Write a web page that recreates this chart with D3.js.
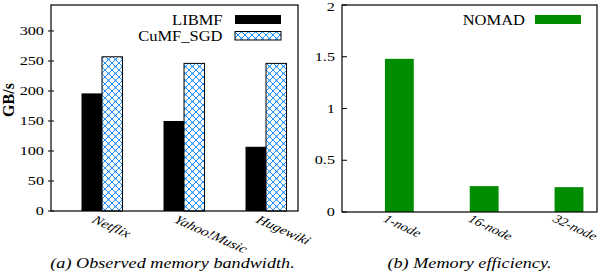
<!DOCTYPE html>
<html>
<head>
<meta charset="utf-8">
<script src="https://cdn.jsdelivr.net/npm/d3@7"></script>
<style>
  body { margin: 0; background: #fff; }
  svg { display: block; }
  text { font-family: "Liberation Serif", "DejaVu Serif", serif; fill: #000; }
</style>
</head>
<body>
<svg id="svg" width="602" height="274"></svg>
<script>
// data
var datasets = ["Netflix", "Yahoo!Music", "Hugewiki"];
var libmf = [196, 150, 107];
var cumf = [257, 246, 246];
var nodes = ["1-node", "16-node", "32-node"];
var nomad = [1.48, 0.25, 0.24];
var leftTicks = [0, 50, 100, 150, 200, 250, 300];
var rightTicks = [0, 0.5, 1, 1.5, 2];

var svg = d3.select("#svg");
var green = "#008c00";
var hatch = "#2090ff";
var sx = 1.3;   // the figure text looks stretched sideways

// crosshatch pattern for CuMF_SGD
var pat = svg.append("defs").append("pattern")
    .attr("id", "hatch")
    .attr("patternUnits", "userSpaceOnUse")
    .attr("width", 7).attr("height", 7);
pat.append("rect").attr("width", 7).attr("height", 7).attr("fill", "#fff");
pat.append("path").attr("d", "M0,0L7,7M7,0L0,7")
    .attr("stroke", hatch).attr("stroke-width", 1).attr("fill", "none");
pat.selectAll("circle").data([[0,0],[7,0],[0,7],[7,7],[3.5,3.5]]).enter()
    .append("circle").attr("cx", function(d){return d[0];}).attr("cy", function(d){return d[1];})
    .attr("r", 1.1).attr("fill", hatch);

function label(g, x, y, txt, size, anchor, extra, scale) {
    return g.append("text")
        .attr("transform", "translate(" + x + "," + y + ") scale(" + (scale || sx) + ",1)" + (extra || ""))
        .attr("text-anchor", anchor)
        .style("font-size", size + "px")
        .text(txt);
}

//----- left panel: bandwidth
var L = {left: 51, right: 298, top: 5, bottom: 211};
var xL = d3.scaleLinear().domain([-0.622, 2.39]).range([L.left, L.right]);
var yL = d3.scaleLinear().domain([0, 343.3]).range([L.bottom, L.top]);
var bwL = xL(0.25) - xL(0);

var gL = svg.append("g");
gL.selectAll("rect.libmf").data(libmf).enter().append("rect")
    .attr("x", function(d, i){ return xL(i) - bwL; })
    .attr("y", function(d){ return yL(d); })
    .attr("width", bwL)
    .attr("height", function(d){ return yL(0) - yL(d); })
    .attr("fill", "#000");
gL.selectAll("rect.cumf").data(cumf).enter().append("rect")
    .attr("x", function(d, i){ return xL(i); })
    .attr("y", function(d){ return yL(d); })
    .attr("width", bwL)
    .attr("height", function(d){ return yL(0) - yL(d); })
    .attr("fill", "url(#hatch)")
    .attr("stroke", "#000").attr("stroke-width", 1);

gL.append("rect").attr("x", L.left).attr("y", L.top)
    .attr("width", L.right - L.left).attr("height", L.bottom - L.top)
    .attr("fill", "none").attr("stroke", "#000").attr("stroke-width", 1.2);

leftTicks.forEach(function(t){
    gL.append("line").attr("x1", L.left - 3).attr("x2", L.left + 3)
        .attr("y1", yL(t)).attr("y2", yL(t)).attr("stroke", "#000");
    label(gL, 44, yL(t) + 4, t, 12.5, "end");
});
datasets.forEach(function(d, i){
    label(gL, xL(i) - 11, 222, d, 12, "start", " rotate(30)").style("font-style", "italic");
});
gL.append("text")
    .attr("transform", "translate(14,100) rotate(-90)")
    .attr("text-anchor", "middle")
    .style("font-size", "16px").style("font-weight", "bold")
    .text("GB/s");

// legend
label(gL, 222.5, 25, "LIBMF", 15, "end", "", 1.1);
gL.append("rect").attr("x", 235).attr("y", 15).attr("width", 46).attr("height", 9).attr("fill", "#000");
label(gL, 222.5, 41, "CuMF_SGD", 15, "end", "", 1.1);
gL.append("rect").attr("x", 235).attr("y", 31.5).attr("width", 46).attr("height", 8.5)
    .attr("fill", "url(#hatch)").attr("stroke", "#000");

label(gL, 172.5, 268, "(a) Observed memory bandwidth.", 14, "middle").style("font-style", "italic");

//----- right panel: efficiency
var R = {left: 342, right: 597, top: 5, bottom: 212};
var xR = d3.scaleLinear().domain([-0.676, 2.33]).range([R.left, R.right]);
var yR = d3.scaleLinear().domain([0, 2]).range([R.bottom, R.top]);
var bwR = xR(0.34) - xR(0);

var gR = svg.append("g");
gR.selectAll("rect.nomad").data(nomad).enter().append("rect")
    .attr("x", function(d, i){ return xR(i) - bwR / 2; })
    .attr("y", function(d){ return yR(d); })
    .attr("width", bwR)
    .attr("height", function(d){ return yR(0) - yR(d); })
    .attr("fill", green);

gR.append("rect").attr("x", R.left).attr("y", R.top)
    .attr("width", R.right - R.left).attr("height", R.bottom - R.top)
    .attr("fill", "none").attr("stroke", "#000").attr("stroke-width", 1.2);

rightTicks.forEach(function(t){
    gR.append("line").attr("x1", R.left).attr("x2", R.left + 5)
        .attr("y1", yR(t)).attr("y2", yR(t)).attr("stroke", "#000");
    // top label sits a bit lower so it stays inside the picture
    label(gR, 335, Math.max(yR(t) + 4, 11), t, 12.5, "end");
});
nodes.forEach(function(d, i){
    label(gR, xR(i) - 17, 221, d, 12, "start", " rotate(30)", 1.22).style("font-style", "italic");
});

label(gR, 525, 25, "NOMAD", 15, "end", "", 1.1);
gR.append("rect").attr("x", 535).attr("y", 15).attr("width", 46).attr("height", 9).attr("fill", green);

label(gR, 469.5, 268, "(b) Memory efficiency.", 14, "middle").style("font-style", "italic");
</script>
</body>
</html>
